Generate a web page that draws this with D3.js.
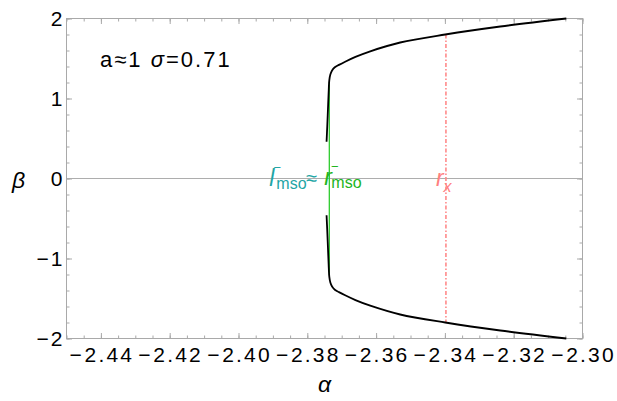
<!DOCTYPE html>
<html>
<head>
<meta charset="utf-8">
<script src="https://cdn.jsdelivr.net/npm/d3@7/dist/d3.min.js"></script>
<style>
  body { margin: 0; background: #fff; }
  text { font-family: "Liberation Sans", Arial, sans-serif; }
</style>
</head>
<body>
<svg id="chart" width="617" height="401"></svg>
<script>
// Upper branch of the boundary curve (alpha, beta)
const alphaUpper = [-2.3744, -2.3742, -2.3740, -2.3738, -2.3736, -2.3733, -2.3728, -2.3720, -2.3708, -2.3690, -2.3660, -2.3617, -2.3530, -2.3399, -2.3239, -2.3047];
const betaUpper  = [0.46, 0.65, 0.86, 1.07, 1.23, 1.30, 1.35, 1.39, 1.42, 1.46, 1.52, 1.59, 1.70, 1.80, 1.90, 2.00];
// Lower branch
const alphaLower = [-2.3744, -2.3742, -2.3740, -2.3738, -2.3736, -2.3733, -2.3728, -2.3720, -2.3708, -2.3690, -2.3660, -2.3617, -2.3530, -2.3399, -2.3239, -2.3047];
const betaLower  = [-0.46, -0.65, -0.86, -1.07, -1.23, -1.30, -1.35, -1.39, -1.42, -1.46, -1.52, -1.59, -1.70, -1.80, -1.90, -2.00];

// Marginally stable orbit line and the r_x marker line
const msoAlpha = -2.3736;
const msoBeta = [-1.21, 1.21];
const rxAlpha = -2.3397;
const rxBeta = [-1.80, 1.80];

const xDomain = [-2.45, -2.30];
const yDomain = [-2, 2];
const xTickValues = [-2.44, -2.42, -2.40, -2.38, -2.36, -2.34, -2.32, -2.30];
const yTickValues = [-2, -1, 0, 1, 2];
const xTickLabels = ["2.44", "2.42", "2.40", "2.38", "2.36", "2.34", "2.32", "2.30"];
const yTickLabels = ["\u22122", "\u22121", "0", "1", "2"];

const svg = d3.select("#chart");
const pLeft = 66.5, pRight = 582.5, pTop = 18.5, pBottom = 338.5;

const x = d3.scaleLinear().domain(xDomain).range([pLeft, pRight]);
const y = d3.scaleLinear().domain(yDomain).range([pBottom, pTop]);

const frameColor = "#a9a9a9";
const xMinor = x.ticks(30);
const yMinor = y.ticks(20);

function styleAxis(g) {
  g.select(".domain").remove();
  g.selectAll(".tick line").attr("stroke", frameColor).attr("stroke-width", 1);
  g.selectAll(".tick text").remove();
}

// minor + major ticks on all four sides, pointing inward
[[d3.axisBottom, pBottom], [d3.axisTop, pTop]].forEach(([ax, pos]) => {
  svg.append("g").attr("transform", `translate(0,${pos})`)
    .call(ax(x).tickValues(xMinor).tickSize(-3).tickFormat("")).call(styleAxis);
  svg.append("g").attr("transform", `translate(0,${pos})`)
    .call(ax(x).tickValues(xTickValues).tickSize(-5.5).tickFormat("")).call(styleAxis);
});
[[d3.axisLeft, pLeft], [d3.axisRight, pRight]].forEach(([ax, pos]) => {
  svg.append("g").attr("transform", `translate(${pos},0)`)
    .call(ax(y).tickValues(yMinor).tickSize(-3).tickFormat("")).call(styleAxis);
  svg.append("g").attr("transform", `translate(${pos},0)`)
    .call(ax(y).tickValues(yTickValues).tickSize(-5.5).tickFormat("")).call(styleAxis);
});

// zero line
svg.append("line")
  .attr("x1", pLeft).attr("x2", pRight)
  .attr("y1", y(0)).attr("y2", y(0))
  .attr("stroke", "#adadad").attr("stroke-width", 1);

// frame
svg.append("rect")
  .attr("x", pLeft).attr("y", pTop)
  .attr("width", pRight - pLeft).attr("height", pBottom - pTop)
  .attr("fill", "none").attr("stroke", frameColor).attr("stroke-width", 1);

// x tick labels
xTickValues.forEach((v, i) => {
  const t = svg.append("text")
    .attr("x", x(v) + 1).attr("y", 362)
    .attr("text-anchor", "middle")
    .attr("font-size", 21).attr("letter-spacing", 2.2).attr("fill", "#000");
  t.append("tspan").text("\u2212");
  t.append("tspan").attr("dx", 0.5).text(xTickLabels[i]);
});

// y tick labels
yTickValues.forEach((v, i) => {
  svg.append("text")
    .attr("x", pLeft - 2).attr("y", y(v) + 7.5)
    .attr("text-anchor", "end")
    .attr("font-size", 21).attr("letter-spacing", 2).attr("fill", "#000")
    .text(yTickLabels[i]);
});

// axis titles
svg.append("text").attr("x", 324.5).attr("y", 392)
  .attr("text-anchor", "middle").attr("font-size", 23).attr("font-style", "italic")
  .text("\u03b1");
svg.append("text").attr("x", 12).attr("y", 188)
  .attr("font-size", 23).attr("font-style", "italic")
  .text("\u03b2");

// r_x dash-dot line
svg.append("line")
  .attr("x1", x(rxAlpha)).attr("x2", x(rxAlpha))
  .attr("y1", y(rxBeta[1])).attr("y2", y(rxBeta[0]))
  .attr("stroke", "#ff8a8a").attr("stroke-width", 1.6)
  .attr("stroke-dasharray", "4,2,1.5,2");

// mso line
svg.append("line")
  .attr("x1", x(msoAlpha)).attr("x2", x(msoAlpha))
  .attr("y1", y(msoBeta[1])).attr("y2", y(msoBeta[0]))
  .attr("stroke", "#2ecc2e").attr("stroke-width", 1.3);

// boundary curve
const line = d3.line().x(d => x(d[0])).y(d => y(d[1])).curve(d3.curveCatmullRom.alpha(0.5));
const upper = alphaUpper.map((a, i) => [a, betaUpper[i]]);
const lower = alphaLower.map((a, i) => [a, betaLower[i]]);
[upper, lower].forEach(pts => {
  svg.append("path").attr("d", line(pts))
    .attr("fill", "none").attr("stroke", "#000").attr("stroke-width", 1.8);
});

// annotation: parameters
const ann = svg.append("text").attr("x", 100).attr("y", 67)
  .attr("font-size", 22).attr("letter-spacing", 2).attr("fill", "#000");
ann.append("tspan").text("a\u22481 ");
ann.append("tspan").attr("font-style", "italic").text("\u03c3");
ann.append("tspan").text("=0.71");

// annotation: l_mso ≈ r_mso, r_x
const teal = "#1fa5a5", green = "#22b422", pink = "#ff8080";
// symbol with superscript bar and subscript, as one text element
function symbol(xp, yp, color, main, sub, bar) {
  const t = svg.append("text").attr("x", xp).attr("y", yp).attr("fill", color);
  t.append("tspan").attr("font-size", 23).attr("font-style", "italic").text(main);
  if (bar) {
    t.append("tspan").attr("font-size", 13).attr("dx", -1).attr("dy", -14).text("\u2212");
    t.append("tspan").attr("x", xp + 7).attr("dy", 17).attr("font-size", 16).text(sub);
  } else {
    t.append("tspan").attr("font-size", 16).attr("font-style", "italic").attr("dy", 6).text(sub);
  }
}
const mx = x(msoAlpha);
symbol(mx - 60, 186, teal, "l", "mso", true);
svg.append("text").attr("x", mx - 23).attr("y", 185).attr("font-size", 20)
  .attr("fill", teal).text("\u2248");
symbol(mx - 5, 185, green, "r", "mso", true);

const rx = x(rxAlpha);
symbol(rx - 10, 186, pink, "r", "x", false);
</script>
</body>
</html>
